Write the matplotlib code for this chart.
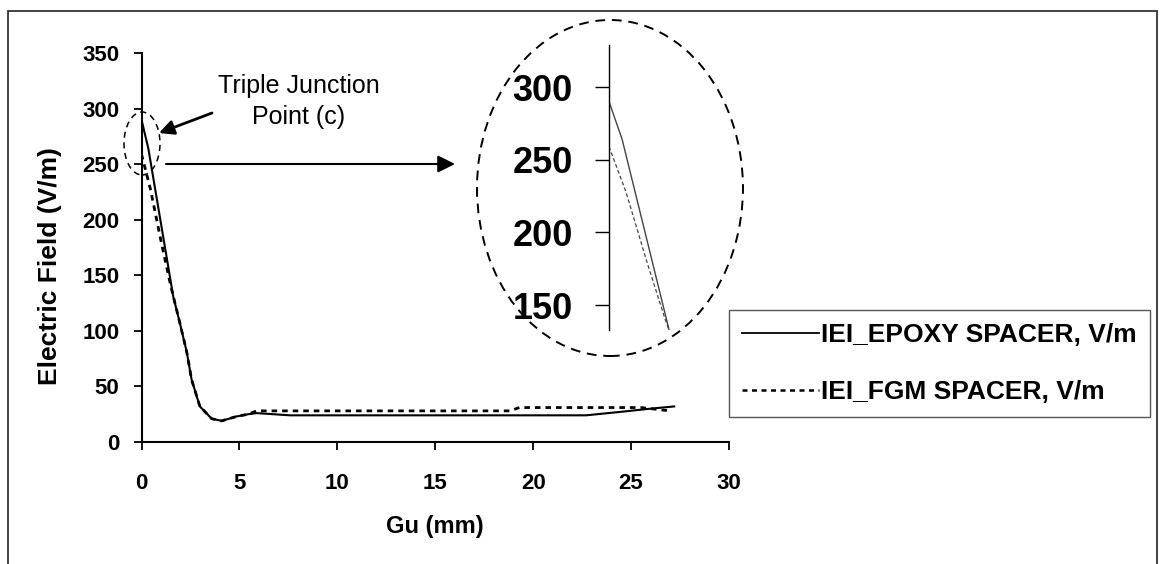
import matplotlib.pyplot as plt
from matplotlib.patches import Ellipse, Rectangle

plt.rcParams['font.family'] = ['Liberation Sans', 'DejaVu Sans']

# Interface electric field (IEI) along the spacer surface
gu_epoxy = [0, 0.35, 0.78, 1.2, 1.62, 1.96, 2.31, 2.56, 2.98, 3.58, 4.09, 4.86,
            5.45, 5.88, 7.58, 22.7, 24.4, 26.0, 27.2]
e_epoxy = [290, 264, 219, 175, 131, 107, 81, 56, 32, 21, 19, 23,
           25, 26, 24, 24, 27, 30, 32]
gu_fgm = [0, 0.45, 1.03, 1.5, 1.96, 2.31, 2.56, 2.98, 3.58, 4.09, 4.86,
          5.45, 5.88, 18.8, 19.3, 25.5, 27.0]
e_fgm = [259, 228, 178, 140, 107, 81, 56, 32, 21, 19, 23,
         25, 28, 28, 31, 31, 28]

x_ticks = [0, 5, 10, 15, 20, 25, 30]
y_ticks = [0, 50, 100, 150, 200, 250, 300, 350]
zoom_ticks = [150, 200, 250, 300]

W, H = 1161, 564


def fx(x):
    return x / W


def fy(y):
    return 1 - y / H


fig = plt.figure(figsize=(W / 100, H / 100), dpi=100)
ax = fig.add_axes([fx(141.5), fy(442), (729 - 141.5) / W, (442 - 53) / H])

ax.plot(gu_epoxy, e_epoxy, color='black', lw=1.5, label='IEI_EPOXY SPACER, V/m')
ax.plot(gu_fgm, e_fgm, color='black', lw=2.0, linestyle=(0, (2, 1.8)),
        label='IEI_FGM SPACER, V/m')
ax.set_xlim(0, 30)
ax.set_ylim(0, 350)
ax.set_xticks(x_ticks)
ax.set_yticks(y_ticks)
for s in ['top', 'right']:
    ax.spines[s].set_visible(False)
for s in ['left', 'bottom']:
    ax.spines[s].set_linewidth(1.5)
ax.tick_params(direction='out', length=6, width=1.3, labelsize=16)
ax.tick_params(axis='x', pad=16)
ax.tick_params(axis='y', pad=10)
for lbl in ax.get_xticklabels() + ax.get_yticklabels():
    lbl.set_fontweight('bold')

ax.set_xlabel('Gu (mm)', fontsize=17, fontweight='bold')
ax.xaxis.set_label_coords(0.5, -(527 - 442) / 389)
ax.xaxis.label.set_va('center')
ax.set_ylabel('Electric Field (V/m)', fontsize=19, fontweight='bold')
ax.yaxis.set_label_coords((50 - 141.5) / 587.5, (442 - 266) / 389)
ax.yaxis.label.set_va('center')

leg = ax.legend(loc='upper left', bbox_to_anchor=(fx(729), fy(310)),
                bbox_transform=fig.transFigure, fancybox=False, framealpha=1,
                edgecolor='#555555', prop=dict(weight='bold', size=19),
                handlelength=2.9, handletextpad=0.1, borderpad=0.5,
                labelspacing=1.25, borderaxespad=0)
leg.get_frame().set_linewidth(1.0)
leg.get_lines()[0].set_linewidth(1.3)
leg.get_lines()[1].set_linewidth(1.8)

# magnified view of the triple junction
axin = fig.add_axes([fx(609), fy(330), 80 / W, 285 / H])
axin.plot(gu_epoxy, e_epoxy, color='#444444', lw=1.0)
axin.plot(gu_fgm, e_fgm, color='#444444', lw=0.9, linestyle=(0, (3, 2)))
axin.set_xlim(0, 80 / 37.5)
axin.set_ylim(132.8, 328.9)
axin.set_xticks([])
axin.set_yticks(zoom_ticks)
axin.patch.set_visible(False)
for s in ['top', 'right', 'bottom']:
    axin.spines[s].set_visible(False)
axin.spines['left'].set_linewidth(1.0)
axin.tick_params(axis='y', length=10, width=1.0, pad=16, labelsize=26)
for lbl in axin.get_yticklabels():
    lbl.set_fontweight('bold')

fig.add_artist(Ellipse((fx(610), fy(188)), 266 / W, 336 / H, transform=fig.transFigure,
                       fill=False, ls=(0, (5, 3.5)), lw=1.4, color='black'))
fig.add_artist(Ellipse((fx(142), fy(143.5)), 36 / W, 63 / H, transform=fig.transFigure,
                       fill=False, ls=(0, (4, 3)), lw=1.1, color='black'))

ax.annotate('', xy=(fx(455), fy(164)), xytext=(fx(166), fy(164)),
            xycoords='figure fraction', textcoords='figure fraction',
            arrowprops=dict(arrowstyle='-|>', color='black', lw=1.5,
                            mutation_scale=26, shrinkA=0, shrinkB=0),
            annotation_clip=False)
ax.annotate('', xy=(fx(159), fy(133)), xytext=(fx(212), fy(113)),
            xycoords='figure fraction', textcoords='figure fraction',
            arrowprops=dict(arrowstyle='-|>', color='black', lw=2,
                            mutation_scale=22, shrinkA=0, shrinkB=0),
            annotation_clip=False)
fig.text(fx(299), fy(101.5), 'Triple Junction\nPoint (c)', ha='center', va='center',
         fontsize=18, linespacing=1.35)

# outer chart frame
fig.add_artist(Rectangle((fx(7.5), fy(580)), (1157 - 7.5) / W, (580 - 11) / H,
                         transform=fig.transFigure, fill=False, lw=1.3, ec='#333333'))

fig.savefig('out.png', dpi=100)
